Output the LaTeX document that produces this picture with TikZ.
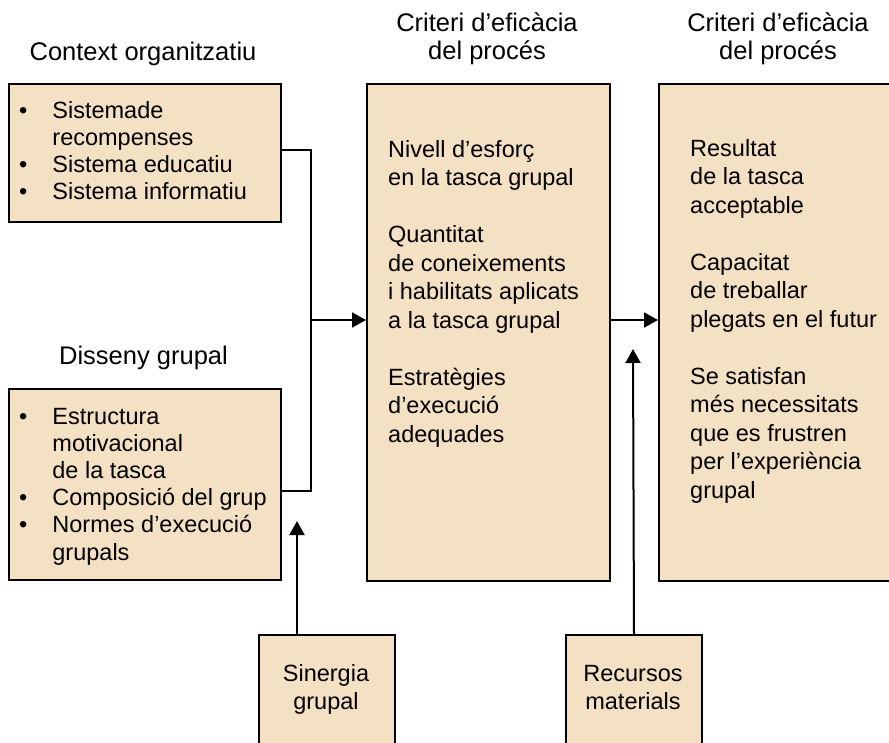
\documentclass[tikz,border=0pt]{standalone}
\usepackage{fontspec}
\setmainfont{Liberation Sans}
\usetikzlibrary{arrows.meta}
\definecolor{boxfill}{RGB}{244,224,194}
\newcommand{\listfont}{\fontsize{23.5}{27.2}\selectfont}
\newcommand{\bodyfont}{\fontsize{23.5}{28.5}\selectfont}
\newcommand{\headfont}{\fontsize{25.5}{28.5}\selectfont}
\begin{document}
\begin{tikzpicture}[x=1pt,y=-1pt,
  panel/.style={draw=black, line width=2pt, fill=boxfill, rectangle,
    anchor=north west, inner sep=0pt},
  body/.style={anchor=base west, inner sep=0pt},
  headline/.style={anchor=base, inner sep=0pt, font=\headfont},
  link/.style={line width=2pt},
  flow/.style={link, -{Triangle[length=14pt,width=15pt]}}]
\clip (0,0) rectangle (889,742);

% headings
\node[headline] (hctx) at (143,60) {Context organitzatiu};
\node[headline] (hdis) at (143.5,364) {Disseny grupal};
\node[headline] (hmid) at (487,31) {\begin{tabular}[t]{@{}c@{}}Criteri d’eficàcia\\del procés\end{tabular}};
\node[headline] (hres) at (778,31) {\begin{tabular}[t]{@{}c@{}}Criteri d’eficàcia\\del procés\end{tabular}};

% boxes
\node[panel, minimum width=272pt, minimum height=138pt] (ctx) at (8,83) {};
\node[panel, minimum width=272pt, minimum height=191pt] (dis) at (8,388) {};
\node[panel, minimum width=243pt, minimum height=497pt] (mid) at (366,83) {};
\node[panel, minimum width=250pt, minimum height=497pt] (res) at (658,83) {};
\node[panel, minimum width=136pt, minimum height=130pt] (sin) at (258,634) {};
\node[panel, minimum width=136pt, minimum height=130pt] (rec) at (565,634) {};

% box contents
\node[body] (ctxtxt) at (19,118) {\listfont\begin{tabular}[t]{@{}c@{\hspace{25pt}}l@{}}
  • & Sistemade\\ & recompenses\\ • & Sistema educatiu\\ • & Sistema informatiu\end{tabular}};
\node[body] (distxt) at (19,424) {\listfont\begin{tabular}[t]{@{}c@{\hspace{25pt}}l@{}}
  • & Estructura\\ & motivacional\\ & de la tasca\\ • & Composició del grup\\
  • & Normes d’execució\\ & grupals\end{tabular}};
\node[body] (midtxt) at (388,157) {\bodyfont\begin{tabular}[t]{@{}l@{}}
  Nivell d’esforç\\ en la tasca grupal\\ \\ Quantitat\\ de coneixements\\
  i habilitats aplicats\\ a la tasca grupal\\ \\ Estratègies\\ d’execució\\ adequades\end{tabular}};
\node[body] (restxt) at (690,156) {\bodyfont\begin{tabular}[t]{@{}l@{}}
  Resultat\\ de la tasca\\ acceptable\\ \\ Capacitat\\ de treballar\\
  plegats en el futur\\ \\ Se satisfan\\ més necessitats\\ que es frustren\\
  per l’experiència\\ grupal\end{tabular}};
\node[anchor=base, inner sep=0pt] (sintxt) at (326,681) {\bodyfont\begin{tabular}[t]{@{}c@{}}Sinergia\\grupal\end{tabular}};
\node[anchor=base, inner sep=0pt] (rectxt) at (633,681) {\bodyfont\begin{tabular}[t]{@{}c@{}}Recursos\\materials\end{tabular}};

% connectors
\coordinate (join) at (311,320);
\coordinate (sintip) at (297,521);
\coordinate (rectip) at (633,349);
\draw[link] ([yshift=3pt]ctx.east) -| (join) |- ([yshift=-6.5pt]dis.east);
\draw[flow] (join) -- (join -| mid.west);
\draw[flow] (join -| mid.east) -- (join -| res.west);
\draw[flow] (sin.north -| sintip) -- (sintip);
\draw[flow] (rec.north) -- (rectip);
\end{tikzpicture}
\end{document}
